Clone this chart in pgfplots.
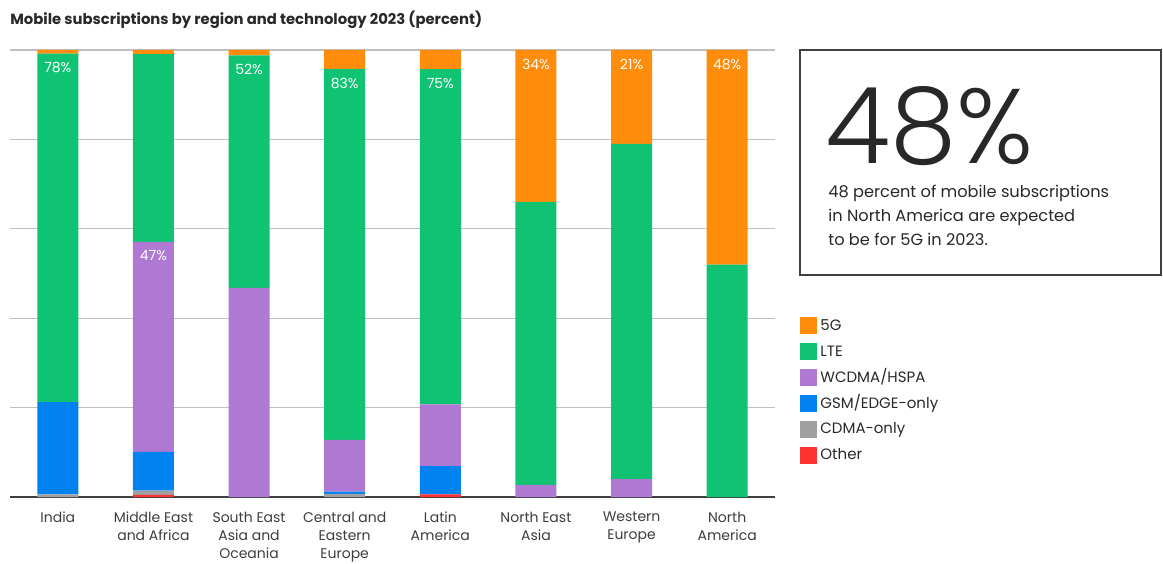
\documentclass[border=0pt]{standalone}
\usepackage{fontspec}
\setmainfont{Poppins}
\newfontfamily\lightfont{Poppins Light}
\usepackage{pgfplots}
\pgfplotsset{compat=1.18}

\definecolor{cfive}{RGB}{255,140,10}
\definecolor{clte}{RGB}{16,195,115}
\definecolor{cwcdma}{RGB}{175,120,210}
\definecolor{cgsm}{RGB}{0,130,240}
\definecolor{ccdma}{RGB}{160,160,160}
\definecolor{cother}{RGB}{255,50,50}
\definecolor{ctext}{RGB}{40,40,40}

\pgfplotsset{frame/.style={at={(5pt,33pt)},anchor=south west,scale only axis,
  width=382.5pt,height=223.5pt,ymin=0,ymax=100,xmin=-0.5,xmax=7.5}}

\begin{document}
\begin{tikzpicture}[x=0.5pt,y=0.5pt]
\path[use as bounding box] (0,0) rectangle (1163,563);

\node[anchor=base west,inner sep=0pt,text=ctext,font=\bfseries\fontsize{7.4}{9}\selectfont]
  at (10,538) {Mobile subscriptions by region and technology 2023 (percent)};

\begin{axis}[frame,
  ybar stacked,bar width=20.5pt,
  xtick={0,...,7},
  xticklabels={India,Middle East\\and Africa,South East\\Asia and\\Oceania,Central and\\Eastern\\Europe,Latin\\America,North East\\Asia,Western\\Europe,North\\America},
  xticklabel style={align=center,text=ctext!90,font=\fontsize{7}{9}\selectfont,yshift=-4pt},
  ytick={0,20,...,100},yticklabels={},
  ymajorgrids,grid style={black!25,line width=0.6pt},
  axis line style={draw=none},major tick length=0pt,
  every axis plot/.append style={draw=none},
  legend image code/.code={\fill[#1] (0pt,-4.25pt) rectangle (8.5pt,4.25pt);},
  reverse legend,
  legend cell align=left,
  legend style={at={(1.0327,0.405)},anchor=north west,draw=none,fill=none,inner sep=0pt,
    font=\fontsize{7.5}{8}\selectfont,text=ctext,row sep=3.45pt,
    nodes={inner sep=1.5pt,text height=5.5pt,text depth=1pt}},
]
\addplot+[fill=cother] coordinates {(0,0) (1,0.5) (2,0) (3,0) (4,0.6) (5,0) (6,0) (7,0)};
\addlegendentry{Other}
\addplot+[fill=ccdma] coordinates {(0,0.6) (1,0.9) (2,0) (3,0.7) (4,0) (5,0) (6,0) (7,0)};
\addlegendentry{CDMA-only}
\addplot+[fill=cgsm] coordinates {(0,20.6) (1,8.7) (2,0) (3,0.5) (4,6.3) (5,0) (6,0) (7,0)};
\addlegendentry{GSM/EDGE-only}
\addplot+[fill=cwcdma] coordinates {(0,0) (1,47) (2,46.8) (3,11.6) (4,13.8) (5,2.7) (6,4) (7,0)};
\addlegendentry{WCDMA/HSPA}
\addplot+[fill=clte] coordinates {(0,78) (1,42) (2,52) (3,83) (4,75) (5,63.3) (6,75) (7,52)};
\addlegendentry{LTE}
\addplot+[fill=cfive] coordinates {(0,0.8) (1,0.9) (2,1.2) (3,4.2) (4,4.3) (5,34) (6,21) (7,48)};
\addlegendentry{5G}
\draw[black!75,line width=0.8pt] (axis cs:-0.5,0) -- (axis cs:7.5,0);
\end{axis}

% value labels at the top of the labelled segment
\begin{axis}[frame,hide axis,point meta=explicit symbolic,
  nodes near coords={\pgfplotspointmeta},
  nodes near coords style={anchor=north,text=white,font=\fontsize{7}{8}\selectfont,yshift=-1pt}]
\addplot[only marks,mark=none] coordinates {(0,99.2)[78\%] (1,57.1)[47\%] (2,98.8)[52\%] (3,95.8)[83\%]
  (4,95.7)[75\%] (5,100)[34\%] (6,100)[21\%] (7,100)[48\%]};
\end{axis}

\draw[black!75,line width=0.75pt] (800,513) rectangle (1161,288);
\node[anchor=base west,inner sep=0pt,text depth=0pt,text=ctext,font=\lightfont\fontsize{53}{53}\selectfont] at (825,399) {48\%};
\node[anchor=base west,inner sep=0pt,align=left,text=ctext,font=\fontsize{8.1}{12}\selectfont] at (828,317)
  {48 percent of mobile subscriptions\\in North America are expected\\to be for 5G in 2023.};
\end{tikzpicture}
\end{document}
